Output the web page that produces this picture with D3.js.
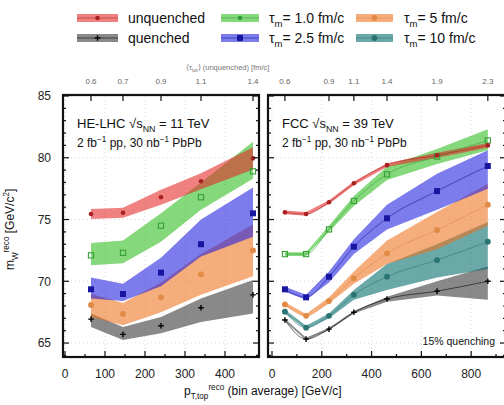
<!DOCTYPE html>
<html><head><meta charset="utf-8">
<script src="https://cdn.jsdelivr.net/npm/d3@7"></script>
<style>body{margin:0;background:#fff} svg{font-family:"Liberation Sans",Arial,sans-serif}</style>
</head><body><svg id="c" width="504" height="405"></svg>
<script>
// ---------- DATA ----------
const hePt = [65, 145, 240, 340, 470];
const heTau = ["0.6", "0.7", "0.9", "1.1", "1.4"];
const fccPt = [52, 137, 229, 329, 462, 663, 867];
const fccTau = ["0.6", "", "0.9", "1.1", "1.4", "1.9", "2.3"];

// HE-LHC
const heUnq = [75.45, 75.55, 76.8, 78.1, 79.95];
const heUnqLo = [75.05, 75.15, 76.2, 77.45, 79.05];
const heUnqHi = [75.85, 75.95, 77.4, 78.75, 80.85];
const heT1 = [72.1, 72.3, 74.5, 76.8, 78.9];
const heT1Lo = [71.3, 71.45, 73.2, 75.8, 78.3];
const heT1Hi = [73.1, 73.3, 75.5, 78.0, 81.3];
const heT25 = [69.35, 68.97, 70.7, 73.0, 75.5];
const heT25Lo = [68.6, 68.4, 69.6, 72.0, 73.6];
const heT25Hi = [70.3, 69.8, 71.9, 75.0, 77.6];
const heT5 = [68.08, 67.35, 68.7, 70.56, 72.5];
const heT5Lo = [67.1, 66.45, 67.5, 68.9, 70.4];
const heT5Hi = [69.0, 68.25, 69.9, 72.2, 74.6];
const heQ = [66.94, 65.7, 66.4, 67.86, 68.9];
const heQLo = [66.3, 65.25, 65.8, 66.7, 67.4];
const heQHi = [67.4, 66.3, 67.1, 68.6, 70.1];

// FCC
const fccUnq = [75.58, 75.45, 76.4, 77.93, 79.4, 80.2, 81.0];
const fccUnqLo = [75.43, 75.3, 76.25, 77.78, 79.25, 80.0, 80.8];
const fccUnqHi = [75.73, 75.6, 76.55, 78.08, 79.55, 80.4, 81.2];
const fccT1 = [72.2, 72.2, 74.2, 76.5, 78.66, 80.1, 81.4];
const fccT1Lo = [72.05, 72.05, 74.0, 76.1, 78.2, 79.5, 80.6];
const fccT1Hi = [72.35, 72.35, 74.5, 76.9, 79.3, 80.7, 82.3];
const fccT25 = [69.35, 68.7, 70.37, 72.8, 75.1, 77.3, 79.33];
const fccT25Lo = [69.15, 68.5, 69.9, 72.2, 74.2, 75.8, 77.5];
const fccT25Hi = [69.55, 68.9, 70.8, 73.4, 76.2, 78.7, 80.6];
const fccT5 = [68.13, 67.2, 68.4, 70.24, 72.26, 74.15, 76.2];
const fccT5Lo = [68.0, 67.05, 68.2, 69.8, 71.4, 72.6, 74.5];
const fccT5Hi = [68.3, 67.35, 68.7, 70.8, 73.3, 75.6, 77.9];
const fccT10 = [67.54, 66.24, 67.2, 68.9, 70.37, 71.72, 73.2];
const fccT10Lo = [67.4, 66.1, 67.0, 68.5, 69.3, 70.3, 71.0];
const fccT10Hi = [67.7, 66.4, 67.4, 69.3, 71.4, 73.0, 74.8];
const fccQ = [66.86, 65.32, 66.13, 67.49, 68.56, 69.2, 70.0];
const fccQLo = [66.76, 65.22, 66.03, 67.39, 68.35, 68.85, 68.5];
const fccQHi = [66.96, 65.42, 66.23, 67.59, 68.75, 70.0, 71.2];

const yTicks = [65, 70, 75, 80, 85];

// ---------- STYLE ----------
const sty = {
  q:   {fill: "#333333", mark: "#000", shape: "cross"},
  t10: {fill: "#006969", mark: "#2a7373", shape: "circle"},
  t5:  {fill: "#ee711e", mark: "#e08a45", shape: "circle"},
  t25: {fill: "#1e1ede", mark: "#1616a0", shape: "square"},
  t1:  {fill: "#2fbc1e", mark: "#34a034", shape: "opensquare"},
  unq: {fill: "#e32626", mark: "#a82020", shape: "dot"}
};
const bandOpacity = 0.58;

const svg = d3.select("#c");
const y = d3.scaleLinear().domain([63.87, 85.08]).range([357, 95]);

function rich(sel, parts, fs) {
  let cur = 0;
  parts.forEach(([t, k]) => {
    const target = k === "sub" ? 0.3 * fs : k === "sup" ? -0.42 * fs : 0;
    sel.append("tspan").attr("dy", target - cur)
      .attr("font-size", k === "n" ? fs : fs * 0.68).text(t);
    cur = target;
  });
}

function marker(g, shape, cx, cy, color) {
  if (shape === "circle") g.append("circle").attr("cx", cx).attr("cy", cy).attr("r", 2.9).attr("fill", color);
  else if (shape === "dot") g.append("circle").attr("cx", cx).attr("cy", cy).attr("r", 2.3).attr("fill", color);
  else if (shape === "square") g.append("rect").attr("x", cx - 3).attr("y", cy - 3).attr("width", 6).attr("height", 6).attr("fill", color);
  else if (shape === "opensquare") g.append("rect").attr("x", cx - 2.6).attr("y", cy - 2.6).attr("width", 5.2).attr("height", 5.2).attr("fill", "none").attr("stroke", color).attr("stroke-width", 1.1);
  else if (shape === "cross") g.append("path").attr("d", `M${cx-2.8},${cy}H${cx+2.8}M${cx},${cy-2.8}V${cy+2.8}`).attr("stroke", color).attr("stroke-width", 1.4);
}

const panels = [
  {id: "he", x: d3.scaleLinear().domain([-5, 485]).range([63, 259]), pt: hePt, tau: heTau,
   xMajor: [0, 100, 200, 300, 400], xMinor: [50, 150, 250, 350, 450], yLabels: true, showLines: false,
   series: [
     ["q", heQ, heQLo, heQHi], ["t5", heT5, heT5Lo, heT5Hi], ["t25", heT25, heT25Lo, heT25Hi],
     ["t1", heT1, heT1Lo, heT1Hi], ["unq", heUnq, heUnqLo, heUnqHi]],
   title: [["HE-LHC √", "n"], ["s", "n"], ["NN", "sub"], [" = 11 TeV", "n"]]},
  {id: "fcc", x: d3.scaleLinear().domain([-16, 940]).range([268, 506]), pt: fccPt, tau: fccTau,
   xMajor: [0, 200, 400, 600, 800], xMinor: [100, 300, 500, 700, 900], yLabels: false, showLines: true,
   series: [
     ["q", fccQ, fccQLo, fccQHi], ["t10", fccT10, fccT10Lo, fccT10Hi], ["t5", fccT5, fccT5Lo, fccT5Hi],
     ["t25", fccT25, fccT25Lo, fccT25Hi], ["t1", fccT1, fccT1Lo, fccT1Hi], ["unq", fccUnq, fccUnqLo, fccUnqHi]],
   title: [["FCC √", "n"], ["s", "n"], ["NN", "sub"], [" = 39 TeV", "n"]]}
];

panels.forEach(p => {
  const [x0, x1] = p.x.range();
  const y0 = 357, y1 = 95;
  const g = svg.append("g");
  g.append("clipPath").attr("id", "clip-" + p.id).append("rect")
    .attr("x", x0).attr("y", y1).attr("width", x1 - x0).attr("height", y0 - y1);
  const inner = g.append("g").attr("clip-path", `url(#clip-${p.id})`);

  // faint grid
  yTicks.forEach(v => inner.append("line").attr("x1", x0).attr("x2", x1).attr("y1", y(v)).attr("y2", y(v))
    .attr("stroke", "#d0d0d0").attr("stroke-dasharray", "1,3").attr("stroke-width", 0.8));
  p.xMajor.forEach(v => inner.append("line").attr("x1", p.x(v)).attr("x2", p.x(v)).attr("y1", y0).attr("y2", y1)
    .attr("stroke", "#d0d0d0").attr("stroke-dasharray", "1,3").attr("stroke-width", 0.8));

  // bands
  p.series.forEach(([k, mid, lo, hi]) => {
    const pts = p.pt.map((v, i) => ({x: v, lo: lo[i], hi: hi[i]}));
    const area = d3.area().x(d => p.x(d.x)).y0(d => y(d.lo)).y1(d => y(d.hi)).curve(d3.curveLinear);
    inner.append("path").attr("d", area(pts)).attr("fill", sty[k].fill).attr("fill-opacity", bandOpacity);
  });
  // lines + markers
  p.series.forEach(([k, mid]) => {
    const pts = p.pt.map((v, i) => [p.x(v), y(mid[i])]);
    if (p.showLines) inner.append("path").attr("d", d3.line().curve(d3.curveMonotoneX)(pts)).attr("fill", "none")
      .attr("stroke", sty[k].mark).attr("stroke-width", 0.8).attr("stroke-opacity", 0.7);
    pts.forEach(([cx, cy]) => marker(inner, sty[k].shape, cx, cy, sty[k].mark));
  });

  // frame
  g.append("rect").attr("x", x0).attr("y", y1).attr("width", x1 - x0).attr("height", y0 - y1)
    .attr("fill", "none").attr("stroke", "#111").attr("stroke-width", 2.2);

  // y ticks (both sides, inward)
  d3.range(64, 86, 1).forEach(v => {
    const len = v % 5 === 0 ? 6 : 3;
    g.append("line").attr("x1", x0).attr("x2", x0 + len).attr("y1", y(v)).attr("y2", y(v)).attr("stroke", "#111").attr("stroke-width", 1.2);
    g.append("line").attr("x1", x1).attr("x2", x1 - len).attr("y1", y(v)).attr("y2", y(v)).attr("stroke", "#111").attr("stroke-width", 1.2);
  });
  if (p.yLabels) {
    yTicks.forEach(v => g.append("text").attr("x", 51).attr("y", y(v) + 4.3).attr("text-anchor", "end")
      .attr("font-size", 12).attr("fill", "#222").text(v));
  }
  // x ticks bottom
  p.xMajor.forEach(v => {
    g.append("line").attr("x1", p.x(v)).attr("x2", p.x(v)).attr("y1", y0).attr("y2", y0 - 6).attr("stroke", "#111").attr("stroke-width", 1.2);
    g.append("text").attr("x", p.x(v)).attr("y", 378).attr("text-anchor", "middle").attr("font-size", 12).attr("fill", "#222").text(v);
  });
  p.xMinor.forEach(v => {
    if (p.x(v) < x1 - 1) g.append("line").attr("x1", p.x(v)).attr("x2", p.x(v)).attr("y1", y0).attr("y2", y0 - 3).attr("stroke", "#111").attr("stroke-width", 1.2);
  });
  // top axis: tau_tot at data points
  p.pt.forEach((v, i) => {
    if (!p.tau[i]) return;
    g.append("line").attr("x1", p.x(v)).attr("x2", p.x(v)).attr("y1", y1).attr("y2", y1 + 6).attr("stroke", "#111").attr("stroke-width", 1.2);
    g.append("text").attr("x", p.x(v)).attr("y", 84).attr("text-anchor", "middle").attr("font-size", 8).attr("fill", "#666").text(p.tau[i]);
  });

  // annotations
  const tx = x0 + 14;
  rich(g.append("text").attr("x", tx).attr("y", 128).attr("fill", "#111"), p.title, 13);
  rich(g.append("text").attr("x", tx).attr("y", 147).attr("fill", "#111"),
    [["2 fb", "n"], ["−1", "sup"], [" pp, 30 nb", "n"], ["−1", "sup"], [" PbPb", "n"]], 12);
});

// 15% quenching
svg.append("text").attr("x", 495).attr("y", 345).attr("text-anchor", "end").attr("font-size", 10.5).attr("fill", "#111").text("15% quenching");

// top axis title
rich(svg.append("text").attr("x", 186).attr("y", 70).attr("fill", "#777"),
  [["⟨τ", "n"], ["tot", "sub"], ["⟩ (unquenched) [fm/c]", "n"]], 7.5);

// axis titles
rich(svg.append("text").attr("transform", "translate(14,270) rotate(-90)").attr("fill", "#111"),
  [["m", "n"], ["W", "sub"], ["reco", "sup"], [" [GeV/c", "n"], ["2", "sup"], ["]", "n"]], 12);
rich(svg.append("text").attr("x", 184).attr("y", 395).attr("fill", "#111"),
  [["p", "n"], ["T,top", "sub"], ["reco", "sup"], [" (bin average) [GeV/c]", "n"]], 12);

// legend
const legendItems = [
  {k: "unq", col: 0, row: 0, parts: [["unquenched", "n"]]},
  {k: "q", col: 0, row: 1, parts: [["quenched", "n"]]},
  {k: "t1", col: 1, row: 0, parts: [["τ", "n"], ["m", "sub"], ["= 1.0 fm/c", "n"]]},
  {k: "t25", col: 1, row: 1, parts: [["τ", "n"], ["m", "sub"], ["= 2.5 fm/c", "n"]]},
  {k: "t5", col: 2, row: 0, parts: [["τ", "n"], ["m", "sub"], ["= 5 fm/c", "n"]]},
  {k: "t10", col: 2, row: 1, parts: [["τ", "n"], ["m", "sub"], ["= 10 fm/c", "n"]]}
];
const legSwX = [77, 221, 356], legSwW = [41, 38, 37], legTxX = [128, 269, 404], legRowY = [18, 38];
legendItems.forEach(it => {
  const lg = svg.append("g");
  const sx = legSwX[it.col], sw = legSwW[it.col], cy = legRowY[it.row];
  lg.append("rect").attr("x", sx).attr("y", cy - 4).attr("width", sw).attr("height", 8)
    .attr("fill", sty[it.k].fill).attr("fill-opacity", bandOpacity);
  lg.append("line").attr("x1", sx).attr("x2", sx + sw).attr("y1", cy).attr("y2", cy).attr("stroke", sty[it.k].mark).attr("stroke-width", 0.8).attr("stroke-opacity", 0.7);
  marker(lg, it.k === "t1" ? "dot" : sty[it.k].shape, sx + sw / 2, cy, sty[it.k].mark);
  rich(lg.append("text").attr("x", legTxX[it.col]).attr("y", cy + 5).attr("fill", "#111"), it.parts, 14);
});
</script></body></html>
